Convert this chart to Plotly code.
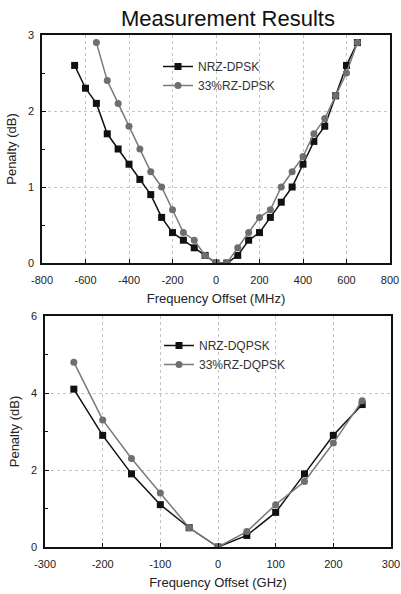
import plotly.graph_objects as go

# ---- data: top panel (DPSK, MHz) ----
nrz_dpsk_x = [-650, -600, -550, -500, -450, -400, -350, -300, -250, -200, -150, -100, -50, 0, 50,
              100, 150, 200, 250, 300, 350, 400, 450, 500, 550, 600, 650]
nrz_dpsk_y = [2.6, 2.3, 2.1, 1.7, 1.5, 1.3, 1.1, 0.9, 0.6, 0.4, 0.3, 0.2, 0.1, 0.0, 0.0,
              0.1, 0.3, 0.4, 0.6, 0.8, 1.0, 1.3, 1.6, 1.8, 2.2, 2.6, 2.9]
rz_dpsk_x = [-550, -500, -450, -400, -350, -300, -250, -200, -150, -100, -50, 0, 50,
             100, 150, 200, 250, 300, 350, 400, 450, 500, 550, 600, 650]
rz_dpsk_y = [2.9, 2.4, 2.1, 1.8, 1.5, 1.2, 1.0, 0.7, 0.4, 0.3, 0.1, 0.0, 0.0,
             0.2, 0.4, 0.6, 0.7, 1.0, 1.2, 1.4, 1.7, 1.9, 2.2, 2.5, 2.9]

# ---- data: bottom panel (DQPSK, GHz) ----
nrz_dqpsk_x = [-250, -200, -150, -100, -50, 0, 50, 100, 150, 200, 250]
nrz_dqpsk_y = [4.1, 2.9, 1.9, 1.1, 0.5, 0.0, 0.3, 0.9, 1.9, 2.9, 3.7]
rz_dqpsk_x = [-250, -200, -150, -100, -50, 0, 50, 100, 150, 200, 250]
rz_dqpsk_y = [4.8, 3.3, 2.3, 1.4, 0.5, 0.0, 0.4, 1.1, 1.7, 2.7, 3.8]

# ---- tick labels ----
top_xticks = [-800, -600, -400, -200, 0, 200, 400, 600, 800]
top_xtext = ["-800", "-600", "-400", "-200", "0", "200", "400", "600", "800"]
top_yticks = [0, 1, 2, 3]
bot_xticks = [-300, -200, -100, 0, 100, 200, 300]
bot_xtext = ["-300", "-200", "-100", "0", "100", "200", "300"]
bot_yticks = [0, 2, 4, 6]

FONT = "Liberation Sans, Arial, sans-serif"
BLACK = "#111111"
GRAY_LINE = "#7a7a7a"
GRAY_MARK = "#6e6e6e"

fig = go.Figure()

fig.add_trace(go.Scatter(x=nrz_dpsk_x, y=nrz_dpsk_y, name="NRZ-DPSK", mode="lines+markers",
                         line=dict(color=BLACK, width=1.5),
                         marker=dict(symbol="square", size=7, color=BLACK),
                         xaxis="x", yaxis="y", legend="legend"))
fig.add_trace(go.Scatter(x=rz_dpsk_x, y=rz_dpsk_y, name="33%RZ-DPSK", mode="lines+markers",
                         line=dict(color=GRAY_LINE, width=1.5),
                         marker=dict(symbol="circle", size=7, color=GRAY_MARK),
                         xaxis="x", yaxis="y", legend="legend"))
fig.add_trace(go.Scatter(x=nrz_dqpsk_x, y=nrz_dqpsk_y, name="NRZ-DQPSK", mode="lines+markers",
                         line=dict(color=BLACK, width=1.5),
                         marker=dict(symbol="square", size=7, color=BLACK),
                         xaxis="x2", yaxis="y2", legend="legend2"))
fig.add_trace(go.Scatter(x=rz_dqpsk_x, y=rz_dqpsk_y, name="33%RZ-DQPSK", mode="lines+markers",
                         line=dict(color=GRAY_LINE, width=1.5),
                         marker=dict(symbol="circle", size=7, color=GRAY_MARK),
                         xaxis="x2", yaxis="y2", legend="legend2"))

W, H = 401, 594
def px_x(a, b):
    return [a / W, b / W]
def px_y(top, bottom):
    return [1 - bottom / H, 1 - top / H]

axis_common = dict(showline=True, linecolor="#111111", linewidth=1.5, mirror=True,
                   ticks="inside", ticklen=4, tickcolor="#111111", tickwidth=1,
                   showgrid=True, gridcolor="#c4c4c4", griddash="dot", gridwidth=1,
                   zeroline=False, automargin=False,
                   tickfont=dict(family=FONT, size=11, color="#222222"),
                   title_font=dict(family=FONT, size=13, color="#222222"))

fig.update_layout(
    width=W, height=H,
    margin=dict(l=0, r=0, t=0, b=0),
    paper_bgcolor="white", plot_bgcolor="white",
    font=dict(family=FONT, color="#222222"),
    title=dict(text="Measurement Results", x=228 / W, xanchor="center", y=1 - 18 / H, yanchor="middle",
               font=dict(family=FONT, size=22, color="#111111")),
    xaxis=dict(domain=px_x(42, 390), anchor="y", range=[-800, 800],
               tickvals=top_xticks, ticktext=top_xtext, ticklabelstandoff=6,
               title=dict(text="Frequency Offset (MHz)", standoff=9), **axis_common),
    yaxis=dict(domain=px_y(35, 263), anchor="x", range=[0, 3],
               tickvals=top_yticks, ticklabelstandoff=4,
               minor=dict(dtick=0.5, ticks="inside", ticklen=3, showgrid=False),
               title=dict(text="Penalty (dB)", standoff=8), **axis_common),
    xaxis2=dict(domain=px_x(45, 391), anchor="y2", range=[-300, 300],
                tickvals=bot_xticks, ticktext=bot_xtext, ticklabelstandoff=6,
                title=dict(text="Frequency Offset (GHz)", standoff=9), **axis_common),
    yaxis2=dict(domain=px_y(316, 547), anchor="x2", range=[0, 6],
                tickvals=bot_yticks, ticklabelstandoff=4,
                minor=dict(dtick=1, ticks="inside", ticklen=3, showgrid=False),
                title=dict(text="Penalty (dB)", standoff=8), **axis_common),
    legend=dict(x=158 / W, y=1 - 52 / H, xanchor="left", yanchor="top",
                bgcolor="rgba(0,0,0,0)", itemwidth=30, tracegroupgap=0,
                font=dict(family=FONT, size=12, color="#333333")),
    legend2=dict(x=159 / W, y=1 - 331 / H, xanchor="left", yanchor="top",
                 bgcolor="rgba(0,0,0,0)", itemwidth=30, tracegroupgap=0,
                 font=dict(family=FONT, size=12, color="#333333")),
    showlegend=True,
)

fig.write_html("out.html", config={"displayModeBar": False},
               post_script="document.body.style.margin='0';")
